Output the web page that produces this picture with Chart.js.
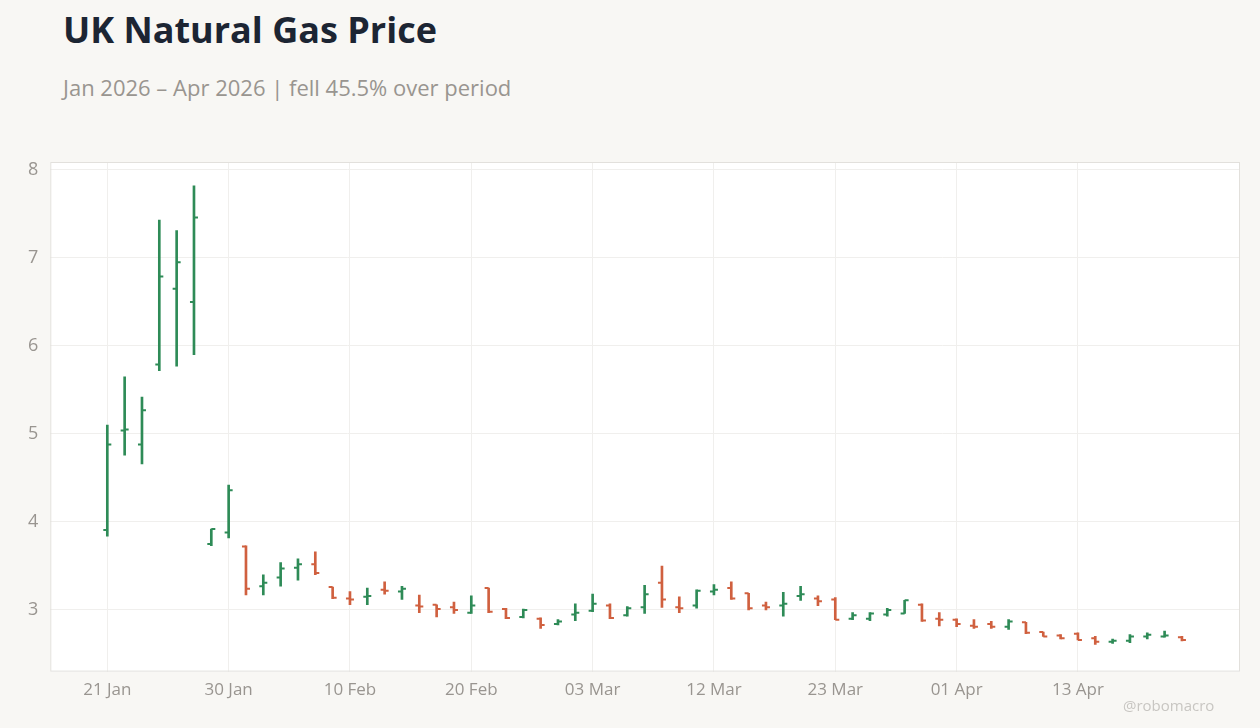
<!DOCTYPE html>
<html><head><meta charset="utf-8">
<script src="https://cdn.jsdelivr.net/npm/chart.js@4"></script>
<style>
html,body{margin:0;padding:0;background:#f8f7f4;width:1260px;height:728px;overflow:hidden;font-family:"Open Sans",sans-serif}
#t{position:absolute;left:63px;top:5px;font-size:36px;font-weight:700;color:#1c2533}
#s{position:absolute;left:63px;top:72px;font-size:22px;color:#999590}
#w{position:absolute;left:1123px;top:695px;font-size:15px;color:#c8c6c2}
#c{position:absolute;left:0;top:0}
</style></head><body>
<div id="t">UK Natural Gas Price</div>
<div id="s">Jan 2026 – Apr 2026 | fell 45.5% over period</div>
<canvas id="c" width="1260" height="728"></canvas>
<div id="w">@robomacro</div>
<script>
const openP=[3.91,5.04,4.88,5.79,6.65,6.50,3.75,3.88,3.72,3.27,3.37,3.48,3.52,3.26,3.13,3.15,3.23,3.21,3.05,3.06,3.03,2.97,3.25,3.01,2.92,2.90,2.84,2.95,2.99,3.05,2.94,3.03,3.31,3.03,3.05,3.21,3.25,3.19,3.05,3.05,3.16,3.13,3.12,2.90,2.90,2.95,2.96,3.06,2.90,2.89,2.82,2.84,2.81,2.86,2.75,2.71,2.73,2.68,2.64,2.65,2.70,2.70,2.69];
const highP=[5.10,5.65,5.42,7.43,7.31,7.82,3.92,4.42,3.73,3.40,3.54,3.58,3.66,3.26,3.21,3.25,3.32,3.27,3.17,3.06,3.09,3.16,3.25,3.02,3.01,2.91,2.89,3.07,3.18,3.07,3.04,3.28,3.50,3.15,3.23,3.29,3.32,3.19,3.09,3.20,3.27,3.16,3.14,2.97,2.97,3.02,3.11,3.07,2.97,2.90,2.89,2.87,2.89,2.86,2.75,2.72,2.74,2.70,2.67,2.72,2.74,2.76,2.70];
const lowP=[3.84,4.76,4.66,5.72,5.77,5.90,3.73,3.82,3.17,3.17,3.27,3.34,3.40,3.13,3.06,3.06,3.18,3.12,2.97,2.92,2.96,2.96,2.97,2.90,2.91,2.79,2.83,2.88,2.98,2.90,2.93,2.96,3.03,2.97,3.02,3.17,3.12,3.00,3.00,2.93,3.11,3.05,2.89,2.89,2.88,2.93,2.96,2.87,2.82,2.81,2.79,2.79,2.78,2.73,2.70,2.67,2.66,2.61,2.62,2.63,2.67,2.69,2.65];
const closeP=[4.88,5.05,5.27,6.79,6.95,7.46,3.92,4.36,3.24,3.31,3.47,3.52,3.42,3.14,3.12,3.16,3.22,3.24,3.04,3.01,3.00,3.05,2.98,2.91,3.00,2.83,2.87,2.97,3.07,2.91,3.02,3.18,3.12,3.02,3.22,3.23,3.13,3.02,3.03,3.07,3.18,3.10,2.89,2.94,2.96,3.00,3.11,2.88,2.89,2.84,2.81,2.81,2.87,2.74,2.70,2.68,2.66,2.64,2.65,2.70,2.72,2.71,2.66];
const tickIdx=[0,7,14,21,28,35,42,49,56];
const tickLabels=['21 Jan','30 Jan','10 Feb','20 Feb','03 Mar','12 Mar','23 Mar','01 Apr','13 Apr'];
const yTicks=[3,4,5,6,7,8];
const UP='#2e8b57',DN='#d0603f';
const cols=openP.map((o,i)=>closeP[i]>=o?UP:DN);
const ohlc={id:'ohlc',afterDatasetsDraw(ch){const x=ch.scales.x,y=ch.scales.y,c=ch.ctx;c.save();c.lineWidth=2;
 openP.forEach((o,i)=>{const px=x.getPixelForValue(i);c.strokeStyle=cols[i];c.beginPath();
 c.moveTo(px-4,y.getPixelForValue(o));c.lineTo(px,y.getPixelForValue(o));
 c.moveTo(px,y.getPixelForValue(closeP[i]));c.lineTo(px+4,y.getPixelForValue(closeP[i]));c.stroke();});c.restore();}};
const bgPlug={id:'bg',beforeDraw(ch){const a=ch.chartArea,c=ch.ctx;c.save();c.fillStyle='#fff';c.fillRect(a.left,a.top,a.right-a.left,a.bottom-a.top);c.restore();},
 afterDraw(ch){const a=ch.chartArea,c=ch.ctx;c.save();c.strokeStyle='#e2e0dc';c.lineWidth=1;c.strokeRect(a.left+0.5,a.top+0.5,a.right-a.left-1,a.bottom-a.top-1);c.restore();}};
new Chart(document.getElementById('c'),{type:'bar',
 data:{datasets:[{data:openP.map((o,i)=>({x:i,y:[lowP[i],highP[i]]})),backgroundColor:cols,barThickness:2,borderWidth:0}]},
 options:{responsive:false,animation:false,layout:{padding:{top:162,right:20,left:16,bottom:20}},
  plugins:{legend:{display:false},tooltip:{enabled:false}},
  scales:{x:{type:'linear',offset:false,min:-3.29,max:65.35,afterBuildTicks(s){s.ticks=tickIdx.map(v=>({value:v}));},
    ticks:{callback:v=>{const k=tickIdx.indexOf(v);return k>=0?tickLabels[k]:'';},color:'#999590',font:{size:17,family:'Open Sans'},maxRotation:0,padding:8},
    grid:{color:'#f0efed',drawTicks:false,offset:false},border:{display:false}},
   y:{min:2.3,max:8.09,afterBuildTicks(s){s.ticks=yTicks.map(v=>({value:v}));},
    ticks:{color:'#999590',font:{size:18,family:'Open Sans'},padding:12},
    grid:{color:'#f0efed',drawTicks:false},border:{display:false}}}},
 plugins:[bgPlug,ohlc]});
</script></body></html>
